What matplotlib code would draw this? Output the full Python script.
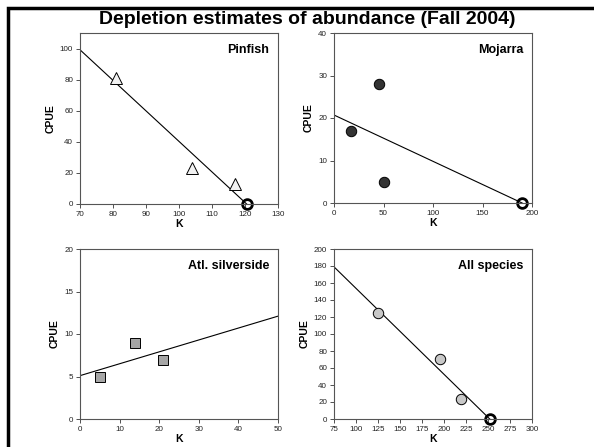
import matplotlib.pyplot as plt
from matplotlib.patches import Rectangle

plt.rcParams['font.family'] = ['Liberation Sans', 'DejaVu Sans']

# 数据
pin_k = [81, 104, 117]
pin_cpue = [81, 23, 13]
pin_line_k = [70, 120.5]
pin_line_cpue = [99.2, 0]
pin_k0 = 120.5

moj_k = [17, 45, 50]
moj_cpue = [17, 28, 5]
moj_line_k = [0, 190]
moj_line_cpue = [20.7, 0]
moj_k0 = 190

sil_k = [5, 14, 21]
sil_cpue = [5, 9, 7]
sil_line_k = [0, 50]
sil_line_cpue = [5.1, 12.1]

all_k = [125, 196, 219]
all_cpue = [125, 71, 23]
all_line_k = [75, 252]
all_line_cpue = [179, 0]
all_k0 = 252

W, H = 594, 447
fig = plt.figure(figsize=(W / 100, H / 100), dpi=100)

# 外框（只露出左边和上边）
fig.patches.append(Rectangle((8 / W, -0.5), 2, 1.5 - 8 / H, transform=fig.transFigure,
                             fill=False, edgecolor='black', linewidth=2.5, clip_on=False))

fig.text(307 / W, 1 - 20 / H, 'Depletion estimates of abundance (Fall 2004)',
         ha='center', va='center', fontsize=14, fontweight='bold')


def make_ax(left, top, right, bottom):
    return fig.add_axes([left / W, 1 - bottom / H, (right - left) / W, (bottom - top) / H])


def style(ax, name, xlim, xticks, ylim, yticks):
    ax.set_xlim(xlim)
    ax.set_ylim(ylim)
    ax.set_xticks(xticks)
    ax.set_yticks(yticks)
    for s in ax.spines.values():
        s.set_color('#555555')
        s.set_linewidth(0.8)
    ax.tick_params(labelsize=5.8, length=3, width=0.6, color='#333333', pad=2, labelcolor='#222222')
    ax.set_xlabel('K', fontsize=7.5, fontweight='bold', labelpad=1)
    ax.set_ylabel('CPUE', fontsize=7.5, fontweight='bold', labelpad=3)
    ax.text(0.955, 0.9, name, transform=ax.transAxes, ha='right', va='center',
            fontsize=9, fontweight='bold')


# Pinfish
ax1 = make_ax(80, 33, 278, 204)
ax1.plot(pin_line_k, pin_line_cpue, color='black', linewidth=0.8)
ax1.plot(pin_k, pin_cpue, linestyle='none', marker='^', markersize=8,
         markerfacecolor='#f2f2f2', markeredgecolor='black', markeredgewidth=0.7)
ax1.plot([pin_k0], [0], linestyle='none', marker='o', markersize=7, markerfacecolor='none',
         markeredgecolor='black', markeredgewidth=2, clip_on=False)
style(ax1, 'Pinfish', (70, 130), range(70, 131, 10), (0, 110), range(0, 101, 20))

# Mojarra
ax2 = make_ax(334, 33, 532, 203)
ax2.plot(moj_line_k, moj_line_cpue, color='black', linewidth=0.8)
ax2.plot(moj_k, moj_cpue, linestyle='none', marker='o', markersize=7.5,
         markerfacecolor='#333333', markeredgecolor='black', markeredgewidth=0.7)
ax2.plot([moj_k0], [0], linestyle='none', marker='o', markersize=7, markerfacecolor='none',
         markeredgecolor='black', markeredgewidth=2, clip_on=False)
style(ax2, 'Mojarra', (0, 200), range(0, 201, 50), (0, 40), range(0, 41, 10))

# Atl. silverside
ax3 = make_ax(80, 249, 278, 419)
ax3.plot(sil_line_k, sil_line_cpue, color='black', linewidth=0.8)
ax3.plot(sil_k, sil_cpue, linestyle='none', marker='s', markersize=7,
         markerfacecolor='#a6a6a6', markeredgecolor='black', markeredgewidth=0.7)
style(ax3, 'Atl. silverside', (0, 50), range(0, 51, 10), (0, 20), range(0, 21, 5))

# All species
ax4 = make_ax(334, 249, 532, 419)
ax4.plot(all_line_k, all_line_cpue, color='black', linewidth=0.8)
ax4.plot(all_k, all_cpue, linestyle='none', marker='o', markersize=7.5,
         markerfacecolor='#c8c8c8', markeredgecolor='black', markeredgewidth=0.7)
ax4.plot([all_k0], [0], linestyle='none', marker='o', markersize=7, markerfacecolor='none',
         markeredgecolor='black', markeredgewidth=2, clip_on=False)
style(ax4, 'All species', (75, 300), range(75, 301, 25), (0, 200), range(0, 201, 20))

fig.savefig('out.png', dpi=100)
